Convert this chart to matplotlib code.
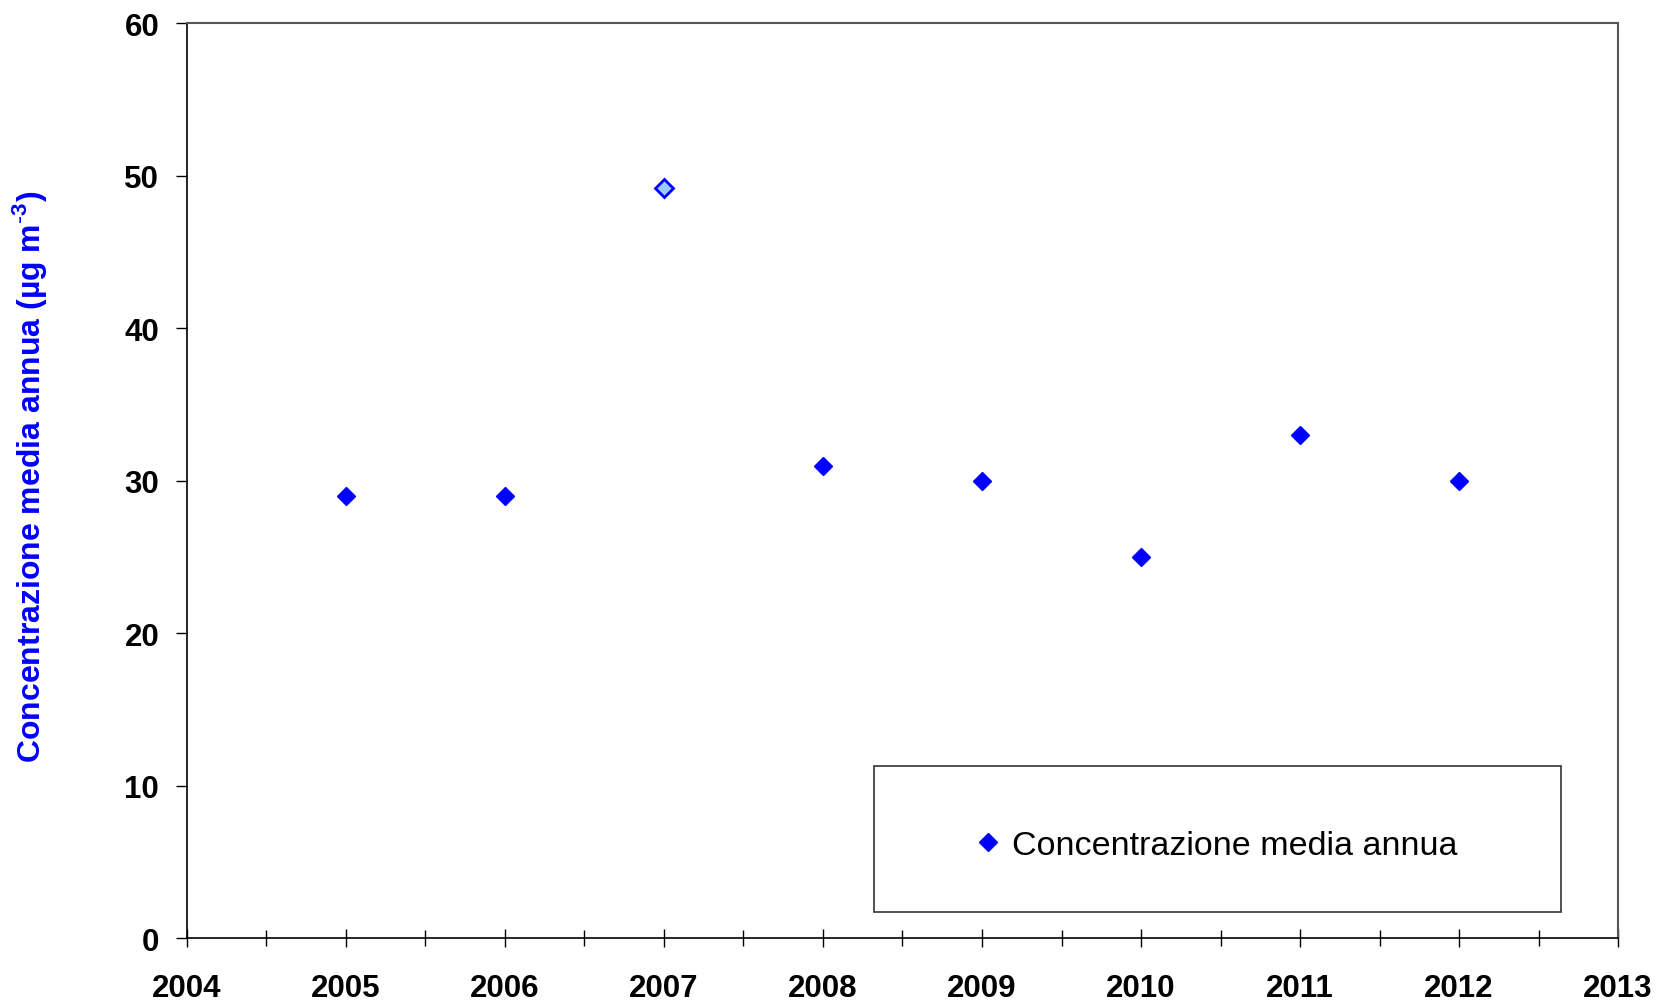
import matplotlib
matplotlib.use("Agg")
import matplotlib.pyplot as plt
from matplotlib.patches import Rectangle
from matplotlib.ticker import MultipleLocator

plt.rcParams['font.family'] = ['Liberation Sans', 'DejaVu Sans']

years = [2005, 2006, 2007, 2008, 2009, 2010, 2011, 2012]
values = [29, 29, 49.2, 31, 30, 25, 33, 30]
highlight_year = 2007
series_label = "Concentrazione media annua"
ylabel = "Concentrazione media annua (µg m$^{\\text{-}\\mathregular{3}}$)"
xticks = list(range(2004, 2014))
yticks = [0, 10, 20, 30, 40, 50, 60]

fig = plt.figure(figsize=(16.59, 10.04), dpi=100)
ax = fig.add_axes([0.1127, 0.0647, 0.8626, 0.9109])

normal_x = [x for x in years if x != highlight_year]
normal_y = [v for x, v in zip(years, values) if x != highlight_year]
hl_y = [v for x, v in zip(years, values) if x == highlight_year]

ax.plot(normal_x, normal_y, linestyle='none', marker='D', ms=9.5,
        mfc='#0000ff', mec='#0000ff', mew=1, label=series_label, zorder=3)
ax.plot([highlight_year], hl_y, linestyle='none', marker='D', ms=9,
        mfc='#99ccff', mec='#0000ff', mew=2, zorder=3)

ax.set_xlim(2004, 2013)
ax.set_ylim(0, 60)
ax.set_xticks(xticks)
ax.xaxis.set_minor_locator(MultipleLocator(0.5))
ax.set_yticks(yticks)

ax.tick_params(axis='x', which='major', direction='inout', length=13, width=1,
               pad=19, labelsize=22.5)
ax.tick_params(axis='x', which='minor', direction='inout', length=11, width=1)
ax.tick_params(axis='y', which='major', direction='out', length=8, width=1,
               pad=12, labelsize=22.5)
for lab in ax.get_xticklabels() + ax.get_yticklabels():
    lab.set_fontweight('bold')

for s in ['left', 'bottom']:
    ax.spines[s].set_color('black')
    ax.spines[s].set_linewidth(1.2)
for s in ['top', 'right']:
    ax.spines[s].set_color('#555555')
    ax.spines[s].set_linewidth(1.5)

fig.text(0.0175, 0.525, ylabel, rotation=90, ha='center', va='center',
         color='#0000ff', fontsize=23, fontweight='bold')

ax.add_patch(Rectangle((0.480, 0.0284), 0.480, 0.1596, transform=ax.transAxes,
                       fill=False, edgecolor='#333333', linewidth=1.2, zorder=4))
leg = ax.legend(loc='center', bbox_to_anchor=(0.72, 0.101), frameon=False,
                fontsize=24.5, handlelength=0.6, handletextpad=0.4, markerscale=1.0)

fig.savefig("out.png", dpi=100)
